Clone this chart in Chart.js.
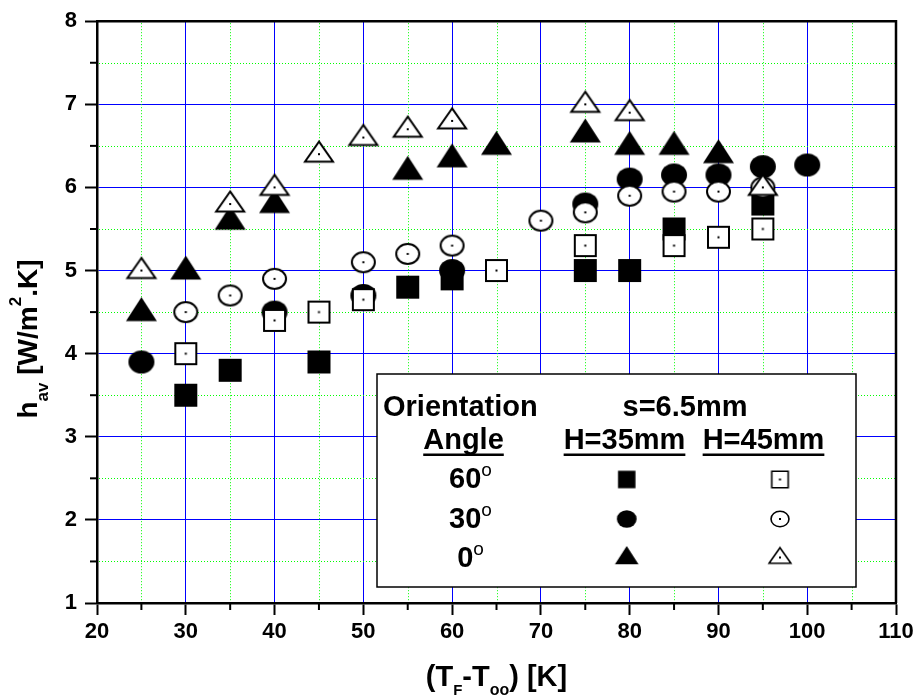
<!DOCTYPE html>
<html>
<head>
<meta charset="utf-8">
<script src="https://cdn.jsdelivr.net/npm/chart.js@4/dist/chart.umd.min.js"></script>
<style>
  html, body { margin: 0; padding: 0; background: #fff; }
  canvas { display: block; }
</style>
</head>
<body>
<canvas id="chart" width="919" height="696"></canvas>
<script>
// h_av vs (T_F - T_oo), s = 6.5 mm, three orientation angles, two fin heights

const X_TICKS = [20, 30, 40, 50, 60, 70, 80, 90, 100, 110];
const Y_TICKS = [1, 2, 3, 4, 5, 6, 7, 8];
const X_MINOR = [25, 35, 45, 55, 65, 75, 85, 95, 105];
const Y_MINOR = [1.5, 2.5, 3.5, 4.5, 5.5, 6.5, 7.5];

// 60 deg
const dT_60_H35 = [30, 35, 45, 55, 60, 75, 80, 85, 95];
const h_60_H35  = [3.5, 3.8, 3.9, 4.8, 4.9, 5.0, 5.0, 5.5, 5.8];
const dT_60_H45 = [30, 40, 45, 50, 65, 75, 85, 90, 95];
const h_60_H45  = [4.0, 4.4, 4.5, 4.65, 5.0, 5.3, 5.3, 5.4, 5.5];
// 30 deg
const dT_30_H35 = [25, 40, 50, 60, 75, 80, 85, 90, 95, 100];
const h_30_H35  = [3.9, 4.5, 4.7, 5.0, 5.8, 6.1, 6.15, 6.15, 6.25, 6.27];
const dT_30_H45 = [30, 35, 40, 50, 55, 60, 70, 75, 80, 85, 90, 95];
const h_30_H45  = [4.5, 4.7, 4.9, 5.1, 5.2, 5.3, 5.6, 5.7, 5.9, 5.95, 5.95, 6.0];
// 0 deg
const dT_0_H35 = [25, 30, 35, 40, 55, 60, 65, 75, 80, 85, 90];
const h_0_H35  = [4.5, 5.0, 5.6, 5.8, 6.2, 6.35, 6.5, 6.65, 6.5, 6.5, 6.4];
const dT_0_H45 = [25, 35, 40, 45, 50, 55, 60, 75, 80, 95];
const h_0_H45  = [5.0, 5.8, 6.0, 6.4, 6.6, 6.7, 6.8, 7.0, 6.9, 6.0];

const ANGLES = ['60', '30', '0'];
const HEIGHTS = ['H=35mm', 'H=45mm'];

const FONT = "'Liberation Sans', Arial, Helvetica, sans-serif";
const MAJOR_GRID = '#0000ff';
const MINOR_GRID = '#00ff00';

// Origin-style symbols drawn once into small canvases
function marker(shape, filled, k) {
  const c = document.createElement('canvas');
  const ctx = c.getContext('2d');
  let w, h, up;
  if (shape === 'rect') { w = filled ? 23 : 21; h = w; }
  else if (shape === 'circle') { w = filled ? 26 : 23; h = filled ? 23 : 20; }
  else { w = filled ? 31 : 28; h = filled ? 24 : 20; }
  w *= k; h *= k;
  up = shape === 'triangle' ? h * 0.63 : h / 2;
  const down = h - up;
  const half = Math.max(up, down);
  c.width = Math.ceil(w + 6);
  c.height = Math.ceil(2 * half + 6);
  const cx = c.width / 2, cy = c.height / 2;
  ctx.beginPath();
  if (shape === 'rect') ctx.rect(cx - w / 2, cy - h / 2, w, h);
  else if (shape === 'circle') ctx.ellipse(cx, cy, w / 2, h / 2, 0, 0, Math.PI * 2);
  else {
    ctx.moveTo(cx, cy - up);
    ctx.lineTo(cx + w / 2, cy + down);
    ctx.lineTo(cx - w / 2, cy + down);
    ctx.closePath();
  }
  if (filled) {
    ctx.fillStyle = '#000';
    ctx.fill();
  } else {
    ctx.fillStyle = '#fff';
    ctx.fill();
    ctx.lineWidth = k < 1 ? 1.6 : 2;
    ctx.strokeStyle = '#000';
    ctx.stroke();
    ctx.fillStyle = '#000';
    ctx.fillRect(cx - 1, cy - 1, 2, 2);
  }
  return c;
}

const SHAPES = ['rect', 'circle', 'triangle'];
const plotMarks = {}, keyMarks = {};
SHAPES.forEach(s => {
  plotMarks[s + 'F'] = marker(s, true, 1);
  plotMarks[s + 'O'] = marker(s, false, 1);
  keyMarks[s + 'F'] = marker(s, true, 0.76);
  keyMarks[s + 'O'] = marker(s, false, 0.78);
});

function pts(xs, ys) { return xs.map((x, i) => ({ x: x, y: ys[i] })); }

// lower order = drawn on top (open symbols over filled ones)
const datasets = [
  { label: '60 H35', data: pts(dT_60_H35, h_60_H35), pointStyle: plotMarks.rectF, order: 6 },
  { label: '30 H35', data: pts(dT_30_H35, h_30_H35), pointStyle: plotMarks.circleF, order: 5 },
  { label: '0 H35', data: pts(dT_0_H35, h_0_H35), pointStyle: plotMarks.triangleF, order: 4 },
  { label: '60 H45', data: pts(dT_60_H45, h_60_H45), pointStyle: plotMarks.rectO, order: 3 },
  { label: '30 H45', data: pts(dT_30_H45, h_30_H45), pointStyle: plotMarks.circleO, order: 2 },
  { label: '0 H45', data: pts(dT_0_H45, h_0_H45), pointStyle: plotMarks.triangleO, order: 1 },
].map(d => Object.assign(d, { showLine: false, pointRadius: 12, pointHoverRadius: 12 }));

function font(size, weight) { return (weight || 'bold') + ' ' + size + 'px ' + FONT; }

// text runs with sub/superscripts; dy shifts the baseline
function runsWidth(ctx, runs) {
  return runs.reduce((w, r) => { ctx.font = font(r.s, r.w); return w + ctx.measureText(r.t).width; }, 0);
}
function drawRuns(ctx, runs, x, y) {
  runs.forEach(r => {
    ctx.font = font(r.s, r.w);
    ctx.fillText(r.t, x, y + (r.dy || 0));
    x += ctx.measureText(r.t).width;
  });
}

const minorGrid = {
  id: 'minorGrid',
  beforeDatasetsDraw(chart) {
    const { ctx, chartArea: a, scales: { x, y } } = chart;
    ctx.save();
    ctx.strokeStyle = MINOR_GRID;
    ctx.lineWidth = 1;
    ctx.setLineDash([1, 2]);
    X_MINOR.forEach(v => {
      const px = Math.round(x.getPixelForValue(v)) + 0.5;
      ctx.beginPath(); ctx.moveTo(px, a.top + 2); ctx.lineTo(px, a.bottom - 1); ctx.stroke();
    });
    Y_MINOR.forEach(v => {
      const py = Math.round(y.getPixelForValue(v)) + 0.5;
      ctx.beginPath(); ctx.moveTo(a.left + 2, py); ctx.lineTo(a.right - 1, py); ctx.stroke();
    });
    // minor tick marks outside the axes
    ctx.setLineDash([]);
    ctx.strokeStyle = '#000';
    ctx.lineWidth = 2;
    X_MINOR.forEach(v => {
      const px = x.getPixelForValue(v);
      ctx.beginPath(); ctx.moveTo(px, a.bottom); ctx.lineTo(px, a.bottom + 7); ctx.stroke();
    });
    Y_MINOR.forEach(v => {
      const py = y.getPixelForValue(v);
      ctx.beginPath(); ctx.moveTo(a.left, py); ctx.lineTo(a.left - 7, py); ctx.stroke();
    });
    // top and right frame
    ctx.lineWidth = 2.5;
    ctx.beginPath();
    ctx.moveTo(a.left, a.top); ctx.lineTo(a.right, a.top); ctx.lineTo(a.right, a.bottom);
    ctx.stroke();
    ctx.restore();
  }
};

const keyBox = {
  id: 'keyBox',
  afterDatasetsDraw(chart) {
    const ctx = chart.ctx;
    ctx.save();
    const bx = 377, by = 374, bw = 479, bh = 213;
    ctx.fillStyle = '#fff';
    ctx.fillRect(bx, by, bw, bh);
    ctx.strokeStyle = '#000';
    ctx.lineWidth = 1.5;
    ctx.strokeRect(bx, by, bw, bh);

    ctx.fillStyle = '#000';
    ctx.textBaseline = 'alphabetic';
    ctx.font = font(29);
    ctx.textAlign = 'left';
    ctx.fillText('Orientation', bx + 6, by + 42);
    ctx.textAlign = 'center';
    ctx.fillText('s=6.5mm', 685, by + 42);

    const heads = [['Angle', 463.5], [HEIGHTS[0], 624.5], [HEIGHTS[1], 763.5]];
    heads.forEach(([t, cx]) => {
      ctx.fillText(t, cx, by + 75);
      const w = ctx.measureText(t).width;
      ctx.fillRect(cx - w / 2, by + 79.5, w, 2.5);
    });

    const rowsY = [488, 528, 567];
    const markY = [479.5, 519, 557.5];
    const keys = ['rect', 'circle', 'triangle'];
    ctx.textAlign = 'left';
    ANGLES.forEach((ang, i) => {
      const runs = [{ t: ang, s: 29 }, { t: 'o', s: 19, w: 'normal', dy: -12 }];
      const w = runsWidth(ctx, runs);
      drawRuns(ctx, runs, 470.5 - w / 2, rowsY[i]);
      const f = keyMarks[keys[i] + 'F'], o = keyMarks[keys[i] + 'O'];
      ctx.drawImage(f, 626.7 - f.width / 2, markY[i] - f.height / 2);
      ctx.drawImage(o, 780 - o.width / 2, markY[i] - o.height / 2);
    });
    ctx.restore();
  }
};

const axisTitles = {
  id: 'axisTitles',
  afterDraw(chart) {
    const { ctx, chartArea: a } = chart;
    ctx.save();
    ctx.fillStyle = '#000';
    ctx.textAlign = 'left';
    ctx.textBaseline = 'alphabetic';

    const xRuns = [
      { t: '(T', s: 29 }, { t: 'F', s: 15, dy: 9 },
      { t: '-T', s: 29 }, { t: 'oo', s: 16, dy: 9 },
      { t: ') [K]', s: 29 }
    ];
    const xw = runsWidth(ctx, xRuns);
    drawRuns(ctx, xRuns, (a.left + a.right) / 2 - xw / 2, 686);

    const yRuns = [
      { t: 'h', s: 28 }, { t: 'av', s: 17, dy: 11 },
      { t: ' [W/m', s: 28 }, { t: '2', s: 17, dy: -16 },
      { t: '.K]', s: 28 }
    ];
    const yw = runsWidth(ctx, yRuns);
    ctx.translate(37, 339);
    ctx.rotate(-Math.PI / 2);
    drawRuns(ctx, yRuns, -yw / 2, 0);
    ctx.restore();
  }
};

const tickFont = { family: FONT, size: 22, weight: 'bold' };

new Chart(document.getElementById('chart'), {
  type: 'scatter',
  data: { datasets: datasets },
  options: {
    responsive: false,
    animation: false,
    devicePixelRatio: 1,
    layout: { padding: { top: 19, right: 23, left: 0, bottom: 0 } },
    plugins: { legend: { display: false }, tooltip: { enabled: false } },
    scales: {
      x: {
        type: 'linear',
        min: X_TICKS[0],
        max: X_TICKS[X_TICKS.length - 1],
        afterFit: s => { s.height = 93; },
        afterBuildTicks: s => { s.ticks = X_TICKS.map(v => ({ value: v })); },
        ticks: { color: '#000', font: tickFont, padding: 4, maxRotation: 0, autoSkip: false },
        grid: { color: MAJOR_GRID, lineWidth: 1, tickColor: '#000', tickWidth: 2, tickLength: 12 },
        border: { color: '#000', width: 2.5 }
      },
      y: {
        type: 'linear',
        min: Y_TICKS[0],
        max: Y_TICKS[Y_TICKS.length - 1],
        afterFit: s => { s.width = 97; },
        afterBuildTicks: s => { s.ticks = Y_TICKS.map(v => ({ value: v })); },
        ticks: { color: '#000', font: tickFont, padding: 8, autoSkip: false },
        grid: { color: MAJOR_GRID, lineWidth: 1, tickColor: '#000', tickWidth: 2, tickLength: 12 },
        border: { color: '#000', width: 2.5 }
      }
    }
  },
  plugins: [minorGrid, keyBox, axisTitles]
});
</script>
</body>
</html>
